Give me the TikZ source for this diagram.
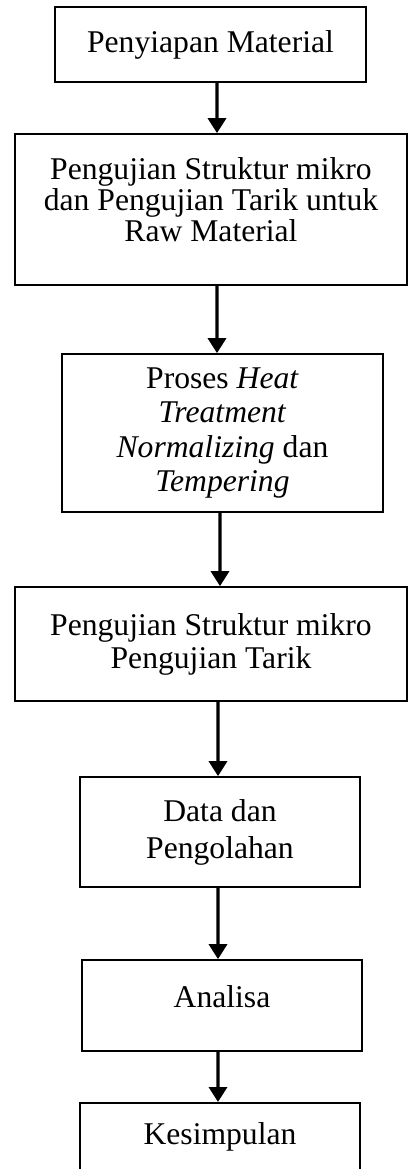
\documentclass[tikz,border=0pt]{standalone}
\usepackage{fontspec}
\setmainfont{Liberation Serif}
\usetikzlibrary{arrows.meta}
\begin{document}
\begin{tikzpicture}[x=0.25mm, y=-0.25mm,
	box/.style={draw, line width=1.2pt, align=center, inner sep=0pt},
	arrow/.style={line width=2.4pt, -{Triangle[width=4.5mm, length=3.75mm]}},
	font=\fontsize{22.5}{23.5}\selectfont]
   \useasboundingbox (0,0) rectangle (408,1169);
   \node (prep) [box, minimum width=77.75mm, minimum height=18.75mm] at (210.5,44.5) {Penyiapan Material};
   \node (rawtest) [box, minimum width=98mm, minimum height=37.75mm, text depth=5mm, font=\fontsize{22.5}{22.3}\selectfont] at (211,209.5) {Pengujian Struktur mikro\\dan Pengujian Tarik untuk\\Raw Material};
   \node (heat) [box, minimum width=80.25mm, minimum height=39.5mm, font=\fontsize{22.5}{24.5}\selectfont] at (222.5,433) {Proses \textit{Heat}\\\textit{Treatment}\\\textit{Normalizing} dan\\\textit{Tempering}};
   \node (test) [box, minimum width=98mm, minimum height=28.5mm] at (211,644) {Pengujian Struktur mikro\\Pengujian Tarik};
   \node (data) [box, minimum width=70mm, minimum height=27.5mm, font=\fontsize{22.5}{26.3}\selectfont] at (220,832) {Data dan\\Pengolahan};
   \node (analysis) [box, minimum width=70mm, minimum height=22.75mm, text depth=4.5mm] at (222,1005.5) {Analisa};
   \node (concl) [box, minimum width=70mm, anchor=north, inner ysep=5mm, text depth=7.5mm] at (220,1102) {Kesimpulan};
   % arrows between the steps
   \draw [arrow] ([xshift=1.625mm]prep.south) -- ([xshift=1.5mm]rawtest.north);
   \draw [arrow] ([xshift=1.5mm]rawtest.south) -- ([xshift=-1.375mm]heat.north);
   \draw [arrow] ([xshift=-0.625mm]heat.south) -- ([xshift=2.25mm]test.north);
   \draw [arrow] ([xshift=1.75mm]test.south) -- ([xshift=-0.5mm]data.north);
   \draw [arrow] ([xshift=-0.5mm]data.south) -- ([xshift=-1mm]analysis.north);
   \draw [arrow] ([xshift=-1mm]analysis.south) -- ([xshift=-0.5mm]concl.north);
\end{tikzpicture}
\end{document}
